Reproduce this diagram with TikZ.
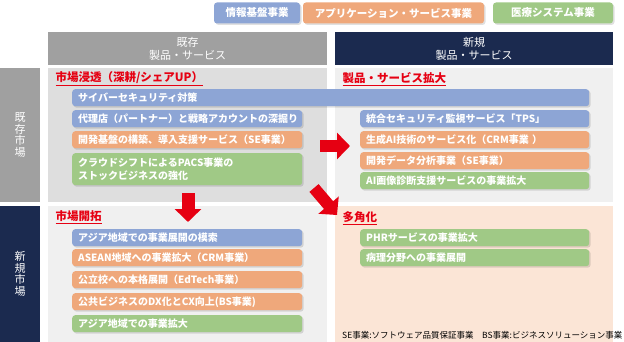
\documentclass[tikz,border=0pt]{standalone}
\usepackage{fontspec}
\setmainfont{Noto Sans CJK JP}
\usetikzlibrary{arrows.meta,shadows}

\definecolor{infoblue}{HTML}{8DA5D5}
\definecolor{apporange}{HTML}{EFA87B}
\definecolor{medgreen}{HTML}{A0C986}
\definecolor{oldgray}{HTML}{A0A0A0}
\definecolor{newnavy}{HTML}{1B2A4F}
\definecolor{panedark}{HTML}{DEDEDE}
\definecolor{panelight}{HTML}{F0F0F0}
\definecolor{panepeach}{HTML}{FBE5D6}
\definecolor{markred}{HTML}{E60012}

\tikzset{
  soft/.style={drop shadow={shadow xshift=1.5pt, shadow yshift=-1.5pt, fill=black, opacity=0.12}},
  bar/.style={soft, fill=#1, rounded corners=3pt, anchor=north west, text=white,
    inner xsep=6pt, inner ysep=0pt, minimum height=17pt, align=left,
    font=\bfseries\fontsize{10}{13}\selectfont},
  legend/.style={soft, fill=#1, rounded corners=3pt, text=white, minimum height=21pt,
    font=\bfseries\fontsize{10.5}{12}\selectfont},
  head/.style={text=white, align=center, font=\fontsize{11}{13}\selectfont},
  side/.style={text=white, align=center, font=\fontsize{11}{11.6}\selectfont},
  title/.style={anchor=west, text=markred, font=\bfseries\fontsize{11.5}{13}\selectfont},
  push/.style={markred, line width=#1, -{Triangle[length=13pt,width=26pt]}}
}

\begin{document}
\begin{tikzpicture}[x=1pt, y=-1pt]
  \useasboundingbox (0,0) rectangle (624,342);

  % legend
  \node[legend=infoblue, minimum width=86pt] (lgInfo) at (257,13) {情報基盤事業};
  \node[legend=apporange, minimum width=181pt] (lgApp) at (393.5,13) {アプリケーション・サービス事業};
  \node[legend=medgreen, minimum width=120pt] (lgMed) at (553,13) {医療システム事業};

  % headers and panes
  \fill[oldgray] (48,32) rectangle (327,65);
  \fill[newnavy] (335,32) rectangle (613,65);
  \node[head] (hdOld) at (187.5,48.5) {既存\\製品・サービス};
  \node[head] (hdNew) at (474,48.5) {新規\\製品・サービス};

  \fill[oldgray] (0,68) rectangle (40,202);
  \fill[newnavy] (0,206) rectangle (40,342);
  \node[side] (mkOld) at (20,135) {既\\存\\市\\場};
  \node[side] (mkNew) at (20,274) {新\\規\\市\\場};

  \fill[panedark] (48,68) rectangle (327,202);
  \fill[panelight] (335,68) rectangle (613,202);
  \fill[panelight] (48,206) rectangle (327,342);
  \fill[panepeach] (335,206) rectangle (613,342);

  \node[title] (tPen) at (52,79) {\underline{市場浸透（深耕/シェアUP）}};
  \node[title] (tPro) at (339,79) {\underline{製品・サービス拡大}};
  \node[title] (tMar) at (52,217) {\underline{市場開拓}};
  \node[title] (tDiv) at (339,218) {\underline{多角化}};

  % existing market
  \node[bar=infoblue, text width=505pt] (b1) at (72,89) {サイバーセキュリティ対策};
  \node[bar=infoblue, text width=218pt] (b2) at (72,110) {代理店（パートナー）と戦略アカウントの深掘り};
  \node[bar=apporange, text width=218pt] (b3) at (72,131) {開発基盤の構築、導入支援サービス（SE事業）};
  \node[bar=medgreen, text width=218pt, minimum height=32pt] (b4) at (72,153)
    {クラウドシフトによるPACS事業の\\ストックビジネスの強化};

  \node[bar=infoblue, text width=217pt] (c1) at (360,110) {統合セキュリティ監視サービス「TPS」};
  \node[bar=apporange, text width=217pt] (c2) at (360,131) {生成AI技術のサービス化（CRM事業 ）};
  \node[bar=apporange, text width=217pt] (c3) at (360,152) {開発データ分析事業（SE事業）};
  \node[bar=medgreen, text width=217pt] (c4) at (360,172) {AI画像診断支援サービスの事業拡大};

  % new market
  \node[bar=infoblue, text width=218pt] (d1) at (72,229) {アジア地域での事業展開の模索};
  \node[bar=apporange, text width=218pt] (d2) at (72,249) {ASEAN地域への事業拡大（CRM事業）};
  \node[bar=apporange, text width=218pt] (d3) at (72,271) {公立校への本格展開（EdTech事業）};
  \node[bar=apporange, text width=218pt] (d4) at (72,293) {公共ビジネスのDX化とCX向上(BS事業)};
  \node[bar=medgreen, text width=218pt] (d5) at (72,315) {アジア地域での事業拡大};

  \node[bar=medgreen, text width=217pt] (e1) at (360,229) {PHRサービスの事業拡大};
  \node[bar=medgreen, text width=217pt] (e2) at (360,249) {病理分野への事業展開};

  \node[anchor=west, inner xsep=0pt, font=\fontsize{8.5}{10}\selectfont] (note) at (342,335)
    {SE事業:ソフトウェア品質保証事業　BS事業:ビジネスソリューション事業};

  % arrows
  \coordinate (rFrom) at (320,146);
  \coordinate (rTo) at (350,146);
  \coordinate (dFrom) at (188,193);
  \coordinate (dTo) at (188,222);
  \coordinate (gFrom) at (314,188);
  \coordinate (gTo) at (337,215);
  \draw[push=12pt] (rFrom) -- (rTo);
  \draw[push=13pt] (dFrom) -- (dTo);
  \draw[push=12pt] (gFrom) -- (gTo);
\end{tikzpicture}
\end{document}
